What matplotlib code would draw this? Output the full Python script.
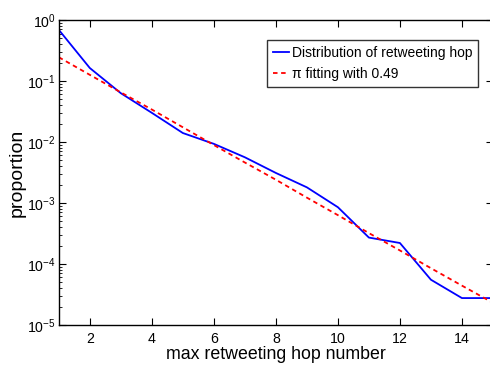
import matplotlib
matplotlib.use('Agg')
import matplotlib.pyplot as plt
from matplotlib.ticker import LogLocator, NullFormatter

plt.rcParams['font.family'] = ['Liberation Sans', 'DejaVu Sans']
plt.rcParams['mathtext.fontset'] = 'custom'
plt.rcParams['mathtext.rm'] = 'Liberation Sans'

hops = [1, 2, 3, 4, 5, 6, 7, 8, 9, 10, 11, 12, 13, 14, 15]
observed = [0.69, 0.163, 0.063, 0.030, 0.014, 0.0093, 0.0056, 0.0031, 0.0018,
            0.00085, 0.00027, 0.00022, 5.5e-5, 2.75e-5, 2.75e-5]
fitted = [0.245, 0.126, 0.065, 0.034, 0.0174, 0.0089, 0.0046, 0.0024, 0.00122,
          0.00063, 0.00032, 0.000166, 8.5e-5, 4.4e-5, 2.3e-5]

fig = plt.figure(figsize=(4.9, 3.7), dpi=100)
ax = fig.add_axes([0.12, 0.122, 0.886, 0.824])

ax.semilogy(hops, observed, color='#0000ff', lw=1.3, label='Distribution of retweeting hop')
ax.semilogy(hops, fitted, color='#ff0000', lw=1.3, ls=(0, (2.5, 2)), label='\u03c0 fitting with 0.49')

ax.set_xlim(1, 15)
ax.set_ylim(1e-5, 1)
ax.set_xticks([2, 4, 6, 8, 10, 12, 14])
ax.yaxis.set_major_locator(LogLocator(base=10, numticks=10))
ax.yaxis.set_minor_locator(LogLocator(base=10, subs=range(2, 10), numticks=20))
ax.yaxis.set_minor_formatter(NullFormatter())
ax.tick_params(which='both', direction='in', top=True, right=True, labelsize=10.2)
ax.tick_params(axis='x', pad=5)
ax.tick_params(axis='y', pad=2)
ax.tick_params(which='major', length=5)
ax.tick_params(which='minor', length=2.5)
for s in ax.spines.values():
    s.set_linewidth(1.0)

ax.set_xlabel('max retweeting hop number', fontsize=12.8, labelpad=0)
ax.set_ylabel('proportion', fontsize=14)
ax.yaxis.set_label_coords(-0.077, 0.5)

leg = ax.legend(loc='upper right', bbox_to_anchor=(0.965, 0.934), fontsize=10,
                frameon=True, fancybox=False, handlelength=1.15, handletextpad=0.2,
                borderpad=0.4, labelspacing=0.55, borderaxespad=0)
leg.get_frame().set_edgecolor('black')
leg.get_frame().set_linewidth(1.0)

fig.savefig('out.png', dpi=100)
